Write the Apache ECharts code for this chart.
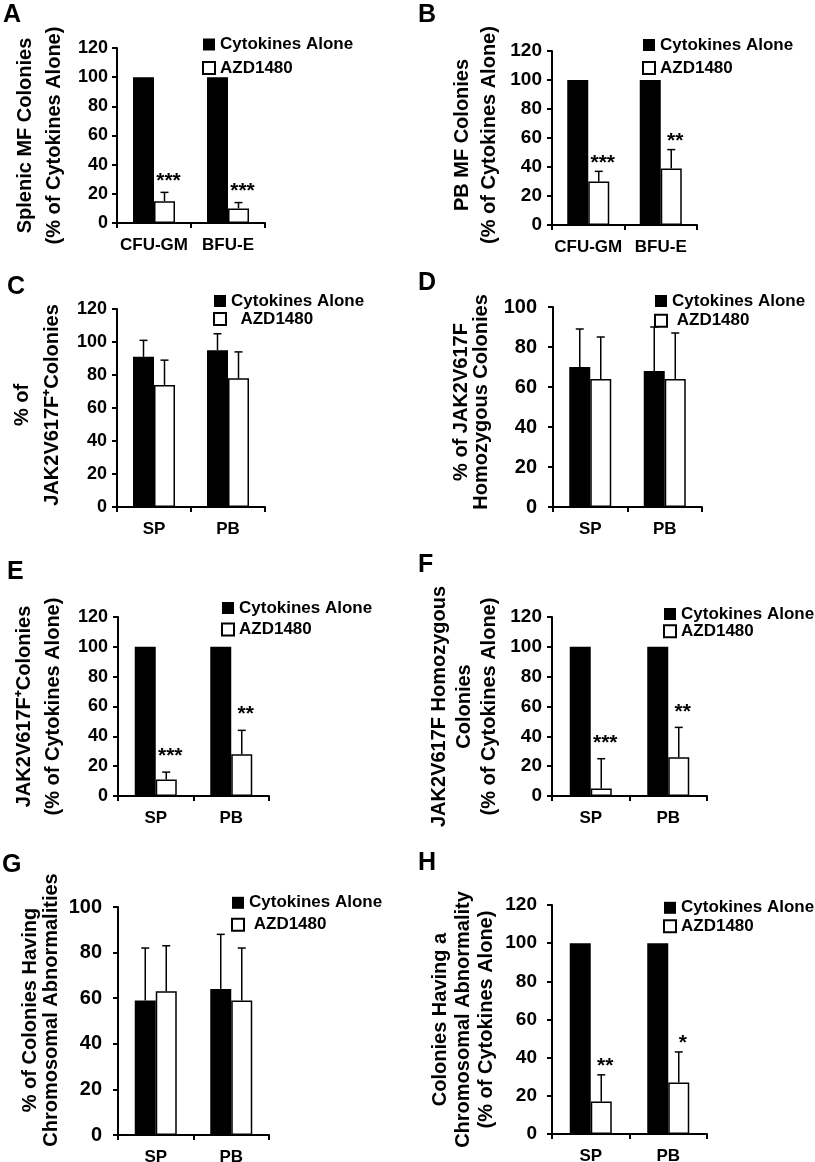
<!DOCTYPE html>
<html><head><meta charset="utf-8">
<script src="https://cdn.jsdelivr.net/npm/echarts@6/dist/echarts.min.js"></script>
<style>html,body{margin:0;padding:0;background:#fff}#chart{width:815px;height:1162px}</style>
</head><body><div id="chart"></div>
<script>
// ---------- data ----------
const seriesNames = ['Cytokines Alone', 'AZD1480'];
const catsColony = ['CFU-GM', 'BFU-E'];
const catsSource = ['SP', 'PB'];

// A  Splenic MF colonies (% of cytokines alone)
const cytA = [100, 100], cytErrA = [0, 0];
const azdA = [15, 10], azdErrA = [6, 4];
const starsA = ['***', '***'];
// B  PB MF colonies
const cytB = [100, 100], cytErrB = [0, 0];
const azdB = [30, 39], azdErrB = [7, 13];
const starsB = ['***', '**'];
// C  % of JAK2V617F+ colonies
const cytC = [91, 95], cytErrC = [10, 10];
const azdC = [74, 78], azdErrC = [15, 16];
const starsC = ['', ''];
// D  % of JAK2V617F homozygous colonies
const cytD = [70, 68], cytErrD = [19, 22];
const azdD = [64, 64], azdErrD = [21, 23];
const starsD = ['', ''];
// E  JAK2V617F+ colonies (% of cytokines alone)
const cytE = [100, 100], cytErrE = [0, 0];
const azdE = [11, 28], azdErrE = [5, 16];
const starsE = ['***', '**'];
// F  JAK2V617F homozygous colonies (% of cytokines alone)
const cytF = [100, 100], cytErrF = [0, 0];
const azdF = [5, 26], azdErrF = [20, 20];
const starsF = ['***', '**'];
// G  % of colonies having chromosomal abnormalities
const cytG = [59, 64], cytErrG = [23, 24];
const azdG = [63, 59], azdErrG = [20, 23];
const starsG = ['', ''];
// H  colonies having a chromosomal abnormality (% of cytokines alone)
const cytH = [100, 100], cytErrH = [0, 0];
const azdH = [17, 27], azdErrH = [14, 16];
const starsH = ['**', '*'];

// ---------- layout ----------
const FONT = '"Liberation Sans", Arial, Helvetica, sans-serif';
const BAR_W = 21;

const panels = [
  {letter:'A', lx:3, ly:3, cats:catsColony, cyt:cytA, cytErr:cytErrA, azd:azdA, azdErr:azdErrA, stars:starsA, max:120,
   grid:{left:117, top:48, width:148, height:175}, yTitle:'Splenic MF Colonies\n(% of Cytokines Alone)', lh:29, gap:48.5, pad:0,
   tickFont:18, lm:9, lg:{left:202, top:36, gap:6.5, indent:''}, starGap:16},
  {letter:'B', lx:418, ly:3, cats:catsColony, cyt:cytB, cytErr:cytErrB, azd:azdB, azdErr:azdErrB, stars:starsB, max:120,
   grid:{left:552, top:51, width:145, height:174}, yTitle:'PB MF Colonies\n(% of Cytokines Alone)', lh:27, gap:49.5, pad:6,
   tickFont:19, lm:10, lg:{left:642, top:36.5, gap:6, indent:''}, starGap:13},
  {letter:'C', lx:7, ly:275, cats:catsSource, cyt:cytC, cytErr:cytErrC, azd:azdC, azdErr:azdErrC, stars:starsC, max:120,
   grid:{left:117, top:309, width:148, height:198}, yTitle:'% of\nJAK2V617F\u207AColonies', lh:30, gap:50, pad:6,
   tickFont:18, lm:10, lg:{left:213, top:292.5, gap:1, indent:'  '}, starGap:16},
  {letter:'D', lx:418, ly:271, cats:catsSource, cyt:cytD, cytErr:cytErrD, azd:azdD, azdErr:azdErrD, stars:starsD, max:100,
   grid:{left:553, top:307, width:149, height:200}, yTitle:'% of JAK2V617F\nHomozygous Colonies', lh:20, gap:62, pad:10,
   tickFont:20, lm:16, lg:{left:654, top:292.5, gap:2.7, indent:' '}, starGap:16},
  {letter:'E', lx:7, ly:560, cats:catsSource, cyt:cytE, cytErr:cytErrE, azd:azdE, azdErr:azdErrE, stars:starsE, max:120,
   grid:{left:118, top:617, width:151, height:179}, yTitle:'JAK2V617F\u207AColonies\n(% of Cytokines Alone)', lh:29, gap:50.5, pad:0,
   tickFont:18, lm:10, lg:{left:221, top:599.5, gap:4.5, indent:''}, starGap:21},
  {letter:'F', lx:418, ly:553, cats:catsSource, cyt:cytF, cytErr:cytErrF, azd:azdF, azdErr:azdErrF, stars:starsF, max:120,
   grid:{left:552, top:617, width:155, height:179}, yTitle:'JAK2V617F Homozygous\nColonies\n(% of Cytokines Alone)', lh:25, gap:50.5, pad:0,
   tickFont:19, lm:10, lg:{left:663, top:605.5, gap:0.3, indent:''}, starGap:20},
  {letter:'G', lx:2, ly:853, cats:catsSource, cyt:cytG, cytErr:cytErrG, azd:azdG, azdErr:azdErrG, stars:starsG, max:100,
   grid:{left:118, top:907, width:151, height:228}, yTitle:'% of Colonies Having\nChromosomal Abnormalities', lh:21, gap:56.5, pad:22,
   tickFont:20, lm:16, lg:{left:231, top:894.3, gap:5, indent:' '}, starGap:16},
  {letter:'H', lx:418, ly:851, cats:catsSource, cyt:cytH, cytErr:cytErrH, azd:azdH, azdErr:azdErrH, stars:starsH, max:120,
   grid:{left:552, top:905, width:155, height:229}, yTitle:'Colonies Having a\nChromosomal Abnormality\n(% of Cytokines Alone)', lh:23, gap:54, pad:0,
   tickFont:19, lm:15, lg:{left:663, top:899.3, gap:1.5, indent:''}, starGap:13}
];

const option = {animation:false, backgroundColor:'#fff', title:[], grid:[], xAxis:[], yAxis:[], legend:[], series:[]};

panels.forEach((p, i) => {
  option.title.push({text:p.letter, left:p.lx, top:p.ly, padding:0,
    textStyle:{fontSize:25, fontWeight:'bold', color:'#000', fontFamily:FONT}});
  option.grid.push(Object.assign({containLabel:false, outerBoundsMode:'none'}, p.grid));
  option.xAxis.push({type:'category', gridIndex:i, data:p.cats,
    axisLine:{show:true, lineStyle:{color:'#000', width:2}},
    axisTick:{show:true, length:5, lineStyle:{color:'#000', width:2}},
    axisLabel:{interval:0, hideOverlap:false, color:'#000', fontSize:17, fontWeight:'bold', fontFamily:FONT, margin:14},
    splitLine:{show:false}});
  option.yAxis.push({type:'value', gridIndex:i, min:0, max:p.max, interval:20,
    name:p.yTitle, nameLocation:'middle', nameGap:p.gap, nameMoveOverlap:false,
    nameTextStyle:{color:'#000', fontSize:20, fontWeight:'bold', fontFamily:FONT, lineHeight:p.lh, padding:[0,0,0,p.pad]},
    axisLine:{show:true, lineStyle:{color:'#000', width:2}},
    axisTick:{show:true, length:5, lineStyle:{color:'#000', width:2}},
    axisLabel:{color:'#000', fontSize:p.tickFont, fontWeight:'bold', fontFamily:FONT, margin:p.lm},
    splitLine:{show:false}});
  const indent = p.lg.indent;
  option.legend.push({left:p.lg.left, top:p.lg.top, orient:'vertical', padding:0, itemGap:p.lg.gap,
    itemWidth:12, itemHeight:12, icon:'rect', selectedMode:false, data:seriesNames,
    formatter: n => (n === seriesNames[1] ? indent + n : n),
    textStyle:{fontSize:17, fontWeight:'bold', color:'#000', fontFamily:FONT, lineHeight:17}});
  option.series.push({type:'bar', name:seriesNames[0], xAxisIndex:i, yAxisIndex:i, data:p.cyt,
    barWidth:BAR_W, barGap:'0%', itemStyle:{color:'#000'}});
  option.series.push({type:'bar', name:seriesNames[1], xAxisIndex:i, yAxisIndex:i, data:p.azd,
    barWidth:BAR_W, barGap:'0%', itemStyle:{color:'#fff', borderColor:'#000', borderWidth:1.5}});

  const ebData = [];
  p.cyt.forEach((v, k) => ebData.push([k, v, p.cytErr[k], 0]));
  p.azd.forEach((v, k) => ebData.push([k, v, p.azdErr[k], 1]));
  const ebStars = p.cats.map(() => '').concat(p.stars);
  option.series.push({type:'custom', xAxisIndex:i, yAxisIndex:i, data:ebData, clip:false, z:5,
    encode:{x:0, y:1},
    renderItem:(params, api) => {
      const cat = api.value(0), val = api.value(1), err = api.value(2), slot = api.value(3);
      const base = api.coord([cat, val]);
      const top = api.coord([cat, val + err]);
      const x = base[0] + (slot === 0 ? -1 : 1) * BAR_W / 2;
      const children = [];
      if (err > 0) {
        children.push({type:'line', shape:{x1:x, y1:base[1], x2:x, y2:top[1]}, style:{stroke:'#000', lineWidth:1.5}});
        children.push({type:'line', shape:{x1:x - 4, y1:top[1], x2:x + 4, y2:top[1]}, style:{stroke:'#000', lineWidth:1.5}});
      }
      const s = ebStars[params.dataIndex];
      if (s) {
        children.push({type:'text', x:x + 4, y:top[1] - p.starGap + 4.7,
          style:{text:s, fill:'#000', fontSize:21, fontWeight:'bold', fontFamily:FONT,
                 align:'center', verticalAlign:'middle', textAlign:'center', textVerticalAlign:'middle'}});
      }
      return {type:'group', children};
    }});
});

const chart = echarts.init(document.getElementById('chart'), null, {renderer:'canvas', width:815, height:1162});
chart.setOption(option);
</script>
</body></html>
